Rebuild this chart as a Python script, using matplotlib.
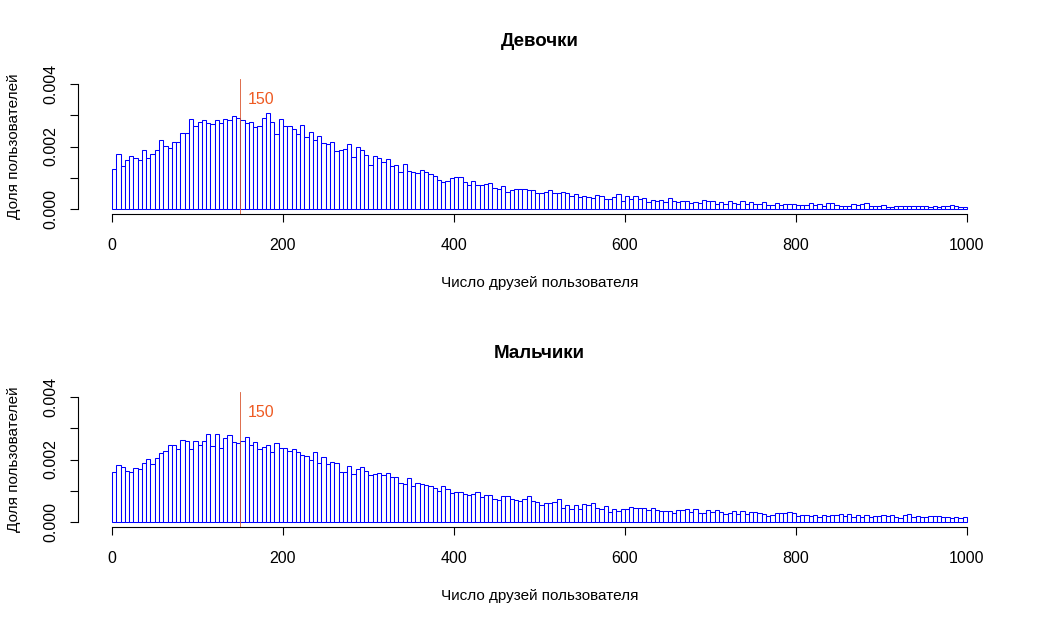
import numpy as np
import matplotlib
matplotlib.use("Agg")
import matplotlib.pyplot as plt

plt.rcParams['font.family'] = ['Liberation Sans', 'DejaVu Sans']

# histogram bins: 0..1000 by 5 friends; densities in units of 1e-4
bin_edges = np.arange(0, 1001, 5)

girls = np.array([
    12.9, 17.6, 13.8, 15.8, 17.0, 16.4, 15.8, 18.9, 16.3, 17.6, 18.9, 22.1, 20.2, 19.5, 21.4, 21.4, 24.3, 24.3, 28.8, 26.6,
    27.8, 28.5, 27.5, 27.2, 28.5, 27.5, 28.8, 28.5, 29.8, 29.1, 28.5, 27.4, 27.8, 26.2, 26.6, 29.1, 30.7, 27.8, 24.0, 28.8,
    26.6, 26.6, 25.6, 24.0, 26.9, 23.0, 24.6, 22.1, 23.4, 21.1, 20.8, 21.4, 18.6, 18.9, 19.2, 20.8, 16.6, 19.8, 18.9, 17.3,
    14.1, 17.0, 16.3, 15.0, 16.0, 13.8, 14.1, 11.8, 14.4, 12.2, 11.8, 11.5, 12.5, 11.8, 11.2, 10.6, 9.3, 8.6, 9.0, 9.9,
    10.2, 10.2, 8.6, 7.7, 8.9, 7.6, 7.6, 7.9, 8.2, 6.6, 6.3, 7.3, 5.3, 6.0, 6.3, 6.3, 6.3, 6.0, 6.0, 5.0,
    5.0, 5.3, 6.0, 5.0, 5.0, 5.3, 5.0, 4.1, 4.7, 3.7, 4.1, 3.7, 3.4, 4.4, 4.1, 3.1, 3.1, 3.7, 4.7, 2.5,
    4.1, 3.1, 4.1, 3.1, 3.4, 2.1, 2.8, 2.5, 2.9, 2.2, 3.5, 2.6, 2.2, 2.6, 2.6, 1.9, 2.2, 1.9, 2.9, 2.6,
    2.6, 1.6, 2.2, 1.6, 2.6, 1.9, 1.6, 2.6, 1.6, 2.2, 1.6, 1.6, 2.2, 1.3, 1.3, 1.9, 1.3, 1.6, 1.6, 1.6,
    1.3, 1.3, 1.3, 1.9, 1.3, 1.6, 1.0, 1.9, 1.9, 1.3, 1.0, 1.0, 1.0, 1.6, 1.3, 1.6, 1.9, 1.0, 1.0, 1.0,
    1.3, 0.6, 0.6, 1.0, 1.0, 1.0, 1.0, 1.0, 1.0, 1.0, 1.0, 0.6, 1.0, 0.6, 1.0, 1.0, 1.3, 1.0, 0.6, 0.6,
]) * 1e-4

boys = np.array([
    15.9, 18.1, 17.5, 16.2, 15.9, 17.2, 16.9, 18.8, 20.1, 18.5, 20.4, 22.0, 22.6, 24.5, 24.5, 23.3, 26.1, 25.8, 23.3, 25.8,
    24.5, 25.8, 28.1, 24.2, 28.1, 23.6, 26.8, 27.7, 25.5, 25.2, 25.8, 27.1, 24.5, 25.5, 23.3, 23.9, 24.5, 22.3, 25.2, 23.6,
    23.6, 22.6, 23.3, 22.3, 21.3, 21.0, 19.7, 22.3, 18.8, 20.7, 18.5, 19.1, 18.8, 15.9, 15.9, 17.8, 15.3, 16.9, 17.5, 16.2,
    14.9, 15.3, 15.6, 14.9, 15.6, 14.3, 14.3, 12.4, 12.1, 14.0, 11.4, 12.4, 12.1, 11.7, 11.4, 10.8, 9.8, 11.4, 10.5, 9.2,
    9.5, 9.5, 8.9, 8.5, 8.9, 9.5, 7.9, 8.5, 8.5, 7.3, 6.9, 8.2, 8.2, 7.3, 6.9, 6.6, 7.3, 8.2, 6.6, 6.3,
    5.3, 6.0, 6.0, 6.3, 7.3, 4.4, 5.3, 4.1, 5.3, 4.1, 5.7, 5.3, 6.0, 4.4, 4.1, 5.0, 3.1, 4.1, 3.4, 4.1,
    4.1, 4.7, 4.4, 4.4, 4.4, 3.7, 4.4, 3.7, 3.4, 3.4, 3.4, 2.8, 3.7, 3.7, 4.1, 3.1, 4.1, 2.8, 2.8, 3.7,
    3.1, 3.7, 3.1, 2.5, 2.8, 3.4, 2.5, 3.4, 2.5, 3.1, 3.1, 2.8, 2.5, 1.8, 2.1, 2.8, 2.8, 2.8, 3.1, 2.8,
    1.8, 2.1, 2.1, 1.8, 2.1, 1.5, 2.1, 1.8, 2.1, 2.1, 2.5, 1.8, 2.5, 1.5, 2.1, 1.5, 2.1, 1.5, 1.8, 1.8,
    2.1, 1.8, 2.1, 1.5, 1.2, 2.1, 2.5, 1.5, 1.8, 1.5, 1.5, 1.8, 1.8, 1.8, 1.5, 1.5, 1.2, 1.5, 1.2, 1.5,
]) * 1e-4

titles = ['Девочки', 'Мальчики']
xlabel = 'Число друзей пользователя'
ylabel = 'Доля пользователей'
marker_x = 150

fig = plt.figure(figsize=(10.42, 6.25), dpi=100)

panels = [(girls, 0.6576, 1 - 41 / 625, 1 - 283 / 625, titles[0]),
          (boys, 0.1568, 1 - 353 / 625, 1 - 596 / 625, titles[1])]

for vals, bottom, title_y, xlab_y, title in panels:
    ax = fig.add_axes([0.0747, bottom, 0.886, 0.216])
    ax.bar(bin_edges[:-1], vals, width=5, align='edge', facecolor='white',
           edgecolor='blue', linewidth=0.75)
    ax.set_xlim(-40, 1040)
    ax.set_ylim(-0.00016, 0.00416)
    ax.axvline(marker_x, color='#d8552e', linewidth=0.6)
    ax.text(marker_x + 9, 0.0035, str(marker_x), color='#ee5a22', fontsize=11.5,
            ha='left', va='center')

    for s in ['top', 'right']:
        ax.spines[s].set_visible(False)
    ax.spines['bottom'].set_bounds(0, 1000)
    ax.spines['left'].set_bounds(0, 0.004)
    ax.set_xticks(np.arange(0, 1001, 200))
    ax.set_yticks([0, 0.002, 0.004])
    ax.set_yticklabels(['0.000', '0.002', '0.004'])
    ax.set_yticks([0.001, 0.003], minor=True)
    ax.tick_params(axis='both', which='both', length=6, width=0.8, labelsize=11.5)
    ax.tick_params(axis='x', pad=11)
    ax.tick_params(axis='y', pad=8, labelrotation=90)
    plt.setp(ax.get_yticklabels(), va='center')

    fig.text(539.5 / 1042, title_y, title, ha='center', va='center',
             fontsize=13.5, fontweight='bold')
    fig.text(539.5 / 1042, xlab_y, xlabel, ha='center', va='center', fontsize=11)
    fig.text(14 / 1042, bottom + 0.108, ylabel, ha='center', va='center',
             rotation=90, fontsize=11)

fig.savefig('out.png', dpi=100)
